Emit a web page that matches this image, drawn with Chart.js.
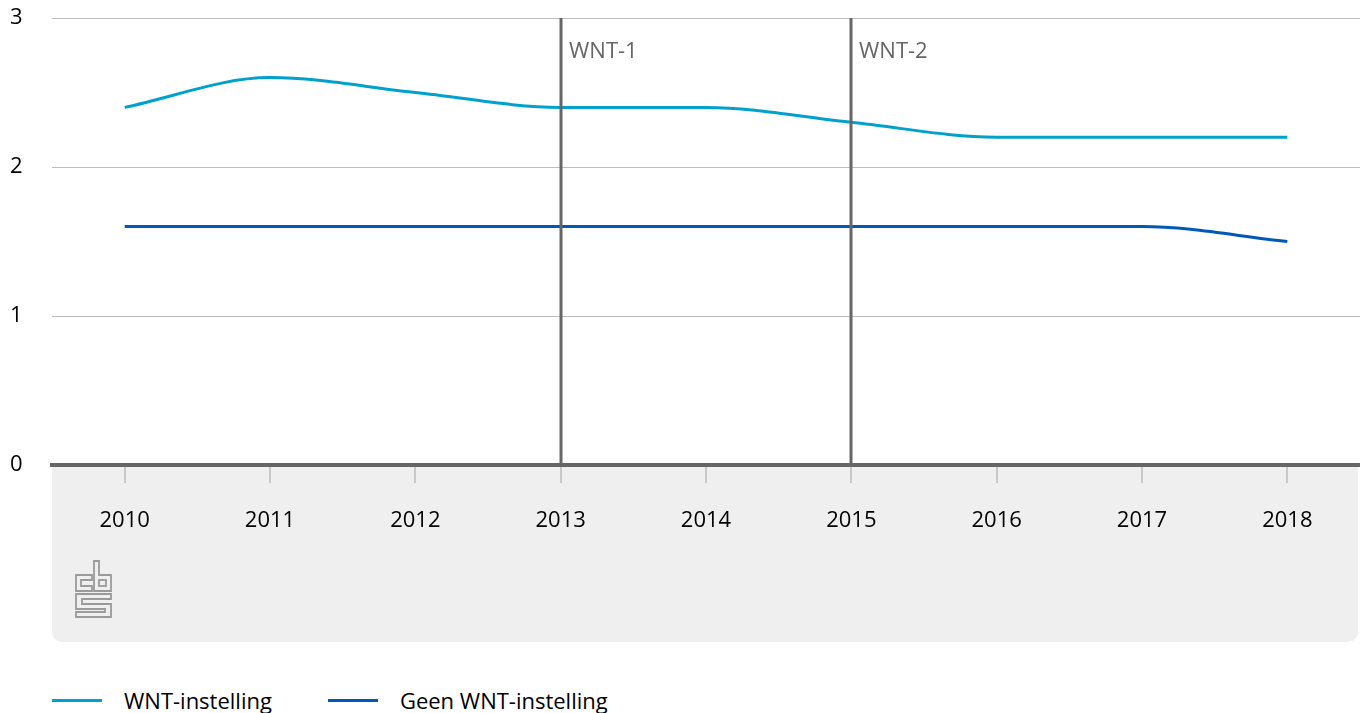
<!DOCTYPE html>
<html>
<head>
<meta charset="utf-8">
<script src="https://cdn.jsdelivr.net/npm/chart.js@4"></script>
<style>
  body { margin: 0; background: #fff; font-family: "Open Sans", sans-serif; }
  .wrap { position: relative; width: 1360px; height: 650px; }
  canvas { display: block; }
  .legend { position: absolute; top: 685px; left: 52px; display: flex; font-size: 22px; line-height: 30px; color: #000; white-space: nowrap; }
  .legend .item { display: flex; align-items: center; margin-right: 56px; }
  .legend .swatch { width: 50px; height: 3px; margin-right: 22px; flex: none; }
</style>
</head>
<body>
<div class="wrap"><canvas id="chart" width="1360" height="650"></canvas></div>
<div class="legend" id="legend"></div>
<script>
  const years = ["2010", "2011", "2012", "2013", "2014", "2015", "2016", "2017", "2018"];
  const wntValues = [2.4, 2.6, 2.5, 2.4, 2.4, 2.3, 2.2, 2.2, 2.2];
  const geenValues = [1.6, 1.6, 1.6, 1.6, 1.6, 1.6, 1.6, 1.6, 1.5];
  const seriesNames = ["WNT-instelling", "Geen WNT-instelling"];
  const seriesColors = ["#00a1cd", "#0058b8"];
  const markerYears = ["2013", "2015"];
  const markerLabels = ["WNT-1", "WNT-2"];

  const font = "Open Sans";

  // grey panel under the x axis + cbs logo
  const panelPlugin = {
    id: "panel",
    beforeDraw(chart) {
      const ctx = chart.ctx;
      const a = chart.chartArea;
      ctx.save();
      ctx.fillStyle = "#efefef";
      ctx.beginPath();
      ctx.roundRect(a.left, a.bottom, chart.width - a.left - 2, 642 - a.bottom, [0, 0, 10, 10]);
      ctx.fill();

      // logo
      ctx.strokeStyle = "#9a9a9a";
      ctx.lineWidth = 1.8;
      const ox = a.left + 24, oy = 561;
      const path = (pts) => {
        ctx.beginPath();
        pts.forEach((p, i) => i ? ctx.lineTo(ox + p[0], oy + p[1]) : ctx.moveTo(ox + p[0], oy + p[1]));
        ctx.closePath();
        ctx.stroke();
      };
      path([[16, 14], [0, 14], [0, 30], [16, 30], [16, 25], [5, 25], [5, 19], [16, 19]]);
      path([[18, 0], [23, 0], [23, 14], [35, 14], [35, 30], [18, 30]]);
      ctx.strokeRect(ox + 23, oy + 19, 7, 6);
      path([[0, 33], [35, 33], [35, 38], [6, 38], [6, 43], [35, 43], [35, 56], [0, 56], [0, 51], [29, 51], [29, 48], [0, 48]]);
      ctx.restore();
    },
  };

  // vertical WNT markers
  const markerPlugin = {
    id: "markers",
    afterDatasetsDraw(chart) {
      const ctx = chart.ctx;
      const a = chart.chartArea;
      const x = chart.scales.x;
      ctx.save();
      markerYears.forEach((yr, i) => {
        const px = Math.round(x.getPixelForValue(years.indexOf(yr)));
        ctx.strokeStyle = "#666666";
        ctx.lineWidth = 3;
        ctx.beginPath();
        ctx.moveTo(px, a.top);
        ctx.lineTo(px, a.bottom);
        ctx.stroke();
        ctx.fillStyle = "#666666";
        ctx.font = "22px '" + font + "'";
        ctx.textBaseline = "middle";
        ctx.fillText(markerLabels[i], px + 8, 52);
      });
      ctx.restore();
    },
  };

  new Chart(document.getElementById("chart"), {
    type: "line",
    data: {
      labels: years,
      datasets: [
        { label: seriesNames[0], data: wntValues, borderColor: seriesColors[0] },
        { label: seriesNames[1], data: geenValues, borderColor: seriesColors[1] },
      ],
    },
    options: {
      responsive: false,
      animation: false,
      layout: { padding: { top: 18, left: 10, right: 0, bottom: 0 } },
      elements: {
        line: { borderWidth: 3, cubicInterpolationMode: "monotone" },
        point: { radius: 0 },
      },
      plugins: { legend: { display: false }, tooltip: { enabled: false } },
      scales: {
        x: {
          offset: true,
          grid: { offset: false, drawOnChartArea: false, tickLength: 18, color: "#c8c8c8", lineWidth: 2 },
          border: { color: "#666666", width: 4 },
          ticks: { color: "#000", font: { family: font, size: 22 }, padding: 25, maxRotation: 0 },
          afterFit(scale) { scale.height = 185; },
        },
        y: {
          min: 0,
          max: 3,
          ticks: { stepSize: 1, color: "#000", font: { family: font, size: 22 }, crossAlign: "far", padding: 0 },
          grid: { color: "#bdbdbd", drawTicks: false },
          border: { display: false },
          afterFit(scale) { scale.width = 42; },
        },
      },
    },
    plugins: [panelPlugin, markerPlugin],
  });

  const legend = document.getElementById("legend");
  seriesNames.forEach((name, i) => {
    const item = document.createElement("div");
    item.className = "item";
    item.innerHTML = '<span class="swatch" style="background:' + seriesColors[i] + '"></span><span>' + name + "</span>";
    legend.appendChild(item);
  });
</script>
</body>
</html>
